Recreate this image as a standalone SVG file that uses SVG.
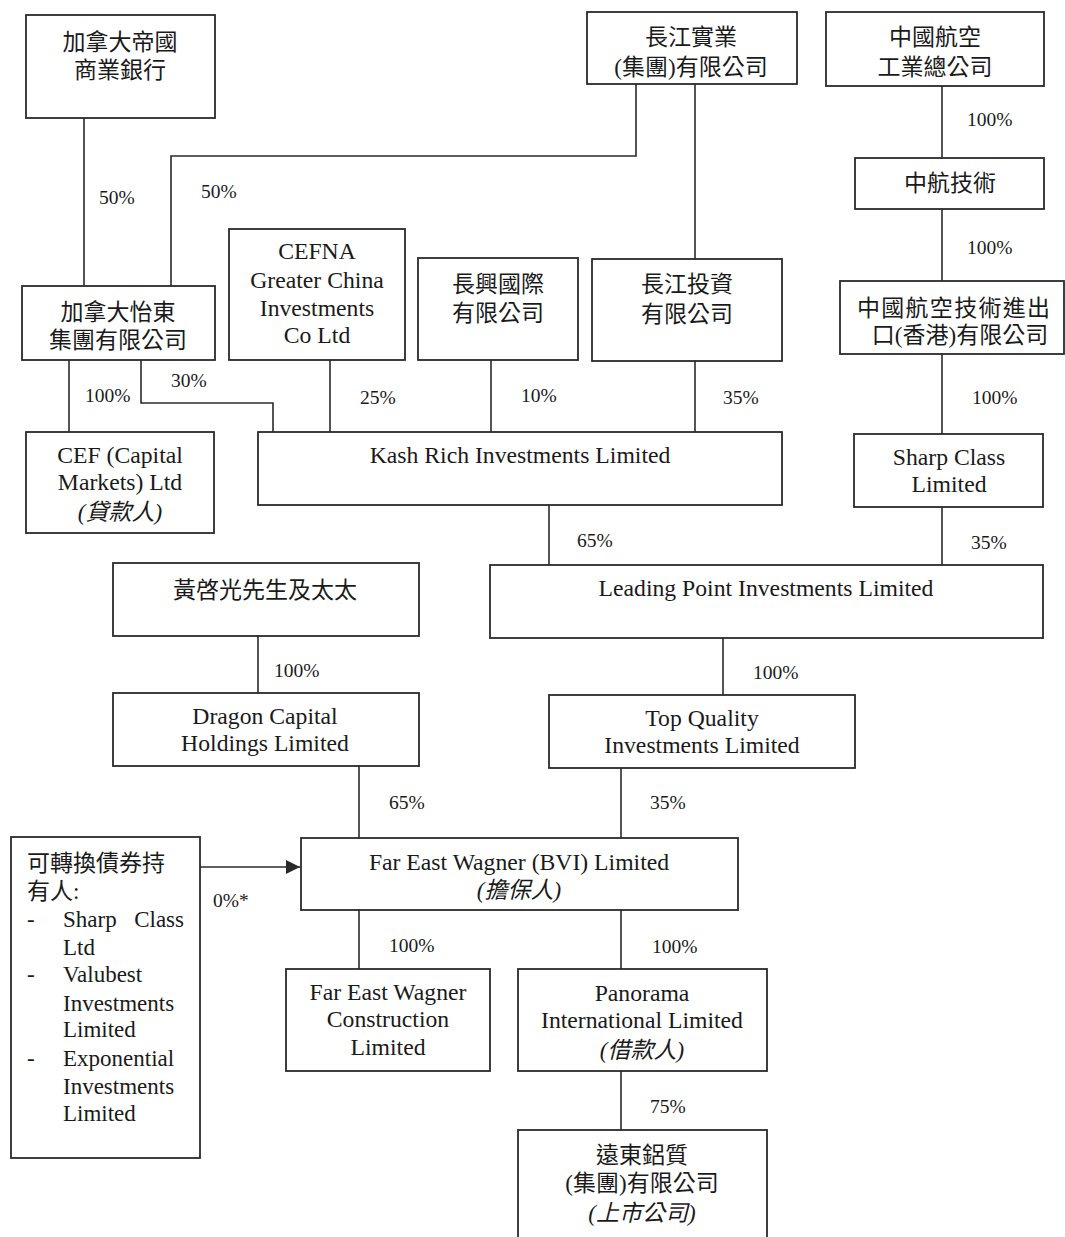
<svg xmlns="http://www.w3.org/2000/svg" width="1065" height="1237" viewBox="0 0 1065 1237">
<defs>
<style>
.box{fill:#fff;stroke:#2a2a2a;stroke-width:1.8}
.ln{fill:none;stroke:#2a2a2a;stroke-width:1.6}
text{font-family:"Liberation Serif","Noto Sans CJK TC",serif;fill:#1a1a1a}
.t{font-size:23.7px;text-anchor:middle}
.c{font-size:23px;text-anchor:middle}
.i{font-style:italic}
.p{font-size:19.5px}
.l{font-size:23px}
</style>
<marker id="arr" viewBox="0 0 14 14" refX="14" refY="7" markerWidth="14" markerHeight="14" markerUnits="userSpaceOnUse" orient="auto">
<path d="M0,0 L14,7 L0,14 Z" fill="#2a2a2a"/>
</marker>
</defs>
<rect width="1065" height="1237" fill="#fff"/>

<g id="connectors">
<path class="ln" d="M84,118 V286"/>
<path class="ln" d="M636,84 V156 H171 V286"/>
<path class="ln" d="M695,84 V259"/>
<path class="ln" d="M942,86 V158"/>
<path class="ln" d="M942,209 V281"/>
<path class="ln" d="M942,354 V434"/>
<path class="ln" d="M69,360 V432"/>
<path class="ln" d="M141,360 V403 H273 V432"/>
<path class="ln" d="M330,360 V432"/>
<path class="ln" d="M491,360 V432"/>
<path class="ln" d="M695,361 V432"/>
<path class="ln" d="M549,505 V565"/>
<path class="ln" d="M942,507 V565"/>
<path class="ln" d="M723,638 V695"/>
<path class="ln" d="M258,636 V693"/>
<path class="ln" d="M359,766 V838"/>
<path class="ln" d="M621,768 V838"/>
<path class="ln" d="M200,867 H300" marker-end="url(#arr)"/>
<path class="ln" d="M359,910 V969"/>
<path class="ln" d="M621,910 V969"/>
<path class="ln" d="M621,1071 V1130"/>
<g class="p">
<text x="99" y="204">50%</text>
<text x="201" y="198">50%</text>
<text x="967" y="126">100%</text>
<text x="967" y="254">100%</text>
<text x="972" y="404">100%</text>
<text x="85" y="402">100%</text>
<text x="171" y="387">30%</text>
<text x="360" y="404">25%</text>
<text x="521" y="402">10%</text>
<text x="723" y="404">35%</text>
<text x="577" y="547">65%</text>
<text x="971" y="549">35%</text>
<text x="274" y="677">100%</text>
<text x="753" y="679">100%</text>
<text x="389" y="809">65%</text>
<text x="650" y="809">35%</text>
<text x="213" y="907">0%*</text>
<text x="389" y="952">100%</text>
<text x="652" y="953">100%</text>
<text x="650" y="1113">75%</text>
</g>
</g>

<g id="cibc">
<rect class="box" x="26" y="15" width="189" height="103"/>
<text class="c" x="120" y="50">加拿大帝國</text>
<text class="c" x="120" y="78">商業銀行</text>
</g>

<g id="ckh">
<rect class="box" x="587" y="12" width="210" height="72"/>
<text class="c" x="691" y="45">長江實業</text>
<text class="c" x="691" y="75">(集團)有限公司</text>
</g>

<g id="avic">
<rect class="box" x="826" y="12" width="218" height="74"/>
<text class="c" x="935" y="45">中國航空</text>
<text class="c" x="935" y="75">工業總公司</text>
</g>

<g id="avic-tech">
<rect class="box" x="855" y="158" width="189" height="51"/>
<text class="c" x="950" y="191">中航技術</text>
</g>

<g id="catic-hk">
<rect class="box" x="840" y="281" width="224" height="73"/>
<text class="l" x="857" y="316" textLength="193" lengthAdjust="spacing">中國航空技術進出</text>
<text class="c" x="960" y="343">口(香港)有限公司</text>
</g>

<g id="cef-holdings">
<rect class="box" x="22" y="286" width="193" height="74"/>
<text class="c" x="118" y="320">加拿大怡東</text>
<text class="c" x="118" y="348">集團有限公司</text>
</g>

<g id="cefna">
<rect class="box" x="229" y="229" width="176" height="131"/>
<text class="t" x="317" y="259">CEFNA</text>
<text class="t" x="317" y="288">Greater China</text>
<text class="t" x="317" y="316">Investments</text>
<text class="t" x="317" y="343">Co Ltd</text>
</g>

<g id="cheung-hing">
<rect class="box" x="418" y="258" width="160" height="102"/>
<text class="c" x="498" y="292">長興國際</text>
<text class="c" x="498" y="321">有限公司</text>
</g>

<g id="ck-invest">
<rect class="box" x="592" y="259" width="190" height="102"/>
<text class="c" x="687" y="292">長江投資</text>
<text class="c" x="687" y="322">有限公司</text>
</g>

<g id="cef-capital">
<rect class="box" x="26" y="432" width="188" height="101"/>
<text class="t" x="120" y="463">CEF (Capital</text>
<text class="t" x="120" y="490">Markets) Ltd</text>
<text class="c i" x="120" y="520">(貸款人)</text>
</g>

<g id="kash-rich">
<rect class="box" x="258" y="432" width="524" height="73"/>
<text class="t" x="520" y="463">Kash Rich Investments Limited</text>
</g>

<g id="sharp-class">
<rect class="box" x="854" y="434" width="189" height="73"/>
<text class="t" x="949" y="465">Sharp Class</text>
<text class="t" x="949" y="492">Limited</text>
</g>

<g id="wong">
<rect class="box" x="113" y="563" width="306" height="73"/>
<text class="c" x="265" y="598">黃啓光先生及太太</text>
</g>

<g id="leading-point">
<rect class="box" x="490" y="565" width="553" height="73"/>
<text class="t" x="766" y="596">Leading Point Investments Limited</text>
</g>

<g id="dragon-capital">
<rect class="box" x="113" y="693" width="306" height="73"/>
<text class="t" x="265" y="724">Dragon Capital</text>
<text class="t" x="265" y="751">Holdings Limited</text>
</g>

<g id="top-quality">
<rect class="box" x="549" y="695" width="306" height="73"/>
<text class="t" x="702" y="726">Top Quality</text>
<text class="t" x="702" y="753">Investments Limited</text>
</g>

<g id="cb-holders">
<rect class="box" x="11" y="837" width="189" height="321"/>
<text class="l" x="27" y="871">可轉換債券持</text>
<text class="l" x="27" y="899">有人:</text>
<text class="l" x="27" y="927">-</text>
<text class="l" y="927"><tspan x="63">Sharp</tspan><tspan x="184" text-anchor="end">Class</tspan></text>
<text class="l" x="63" y="955">Ltd</text>
<text class="l" x="27" y="982">-</text>
<text class="l" x="63" y="982">Valubest</text>
<text class="l" x="63" y="1011">Investments</text>
<text class="l" x="63" y="1037">Limited</text>
<text class="l" x="27" y="1066">-</text>
<text class="l" x="63" y="1066">Exponential</text>
<text class="l" x="63" y="1094">Investments</text>
<text class="l" x="63" y="1121">Limited</text>
</g>

<g id="few-bvi">
<rect class="box" x="301" y="838" width="437" height="72"/>
<text class="t" x="519" y="870">Far East Wagner (BVI) Limited</text>
<text class="c i" x="519" y="898">(擔保人)</text>
</g>

<g id="few-construction">
<rect class="box" x="286" y="969" width="204" height="102"/>
<text class="t" x="388" y="1000">Far East Wagner</text>
<text class="t" x="388" y="1027">Construction</text>
<text class="t" x="388" y="1055">Limited</text>
</g>

<g id="panorama">
<rect class="box" x="518" y="969" width="249" height="102"/>
<text class="t" x="642" y="1001">Panorama</text>
<text class="t" x="642" y="1028">International Limited</text>
<text class="c i" x="642" y="1058">(借款人)</text>
</g>

<g id="far-east-aluminium">
<rect class="box" x="518" y="1130" width="249" height="130"/>
<text class="c" x="642" y="1163">遠東鋁質</text>
<text class="c" x="642" y="1191">(集團)有限公司</text>
<text class="c i" x="642" y="1221">(上市公司)</text>
</g>
</svg>
